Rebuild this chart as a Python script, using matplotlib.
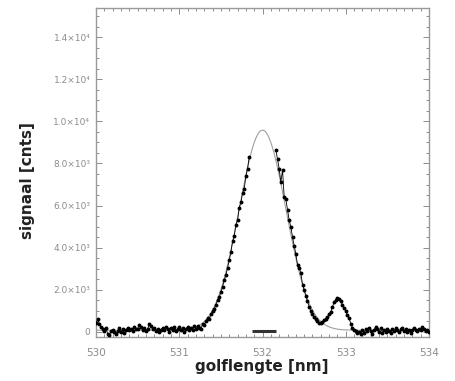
import numpy as np
import matplotlib
matplotlib.use('Agg')
import matplotlib.pyplot as plt
from matplotlib.ticker import MultipleLocator, FixedLocator, FixedFormatter

# measured spectrum, 0.02 nm steps from 530 to 534 nm (nan = no data near the top)
counts_left_base = [420, 600, 380, 250, 120, 30, 180, -80, -150, 40,
                    110, -20, -90, 60, 180, 20, 120, -40, 90, 200,
                    80, 150, 40, 230, 130, 160, 320, 250, 90, 180,
                    60, 140, 380, 300, 120, 200, 60, 150, -20, 110,
                    200, 90, 250, 140, 20, 180, 100, 220, 60, 160,
                    230, 90, 180, 10, 130, 240, 70, 190, 100, 260,
                    120, 300, 210, 150, 380, 320]
counts_left_flank = [520, 650, 620, 830, 980, 1080, 1300, 1500, 1650, 1900,
                     2150, 2450, 2700, 3050, 3400, 3800, 4300, 4550, 5100, 5300,
                     5900, 6150, 6600, 6800, 7400, 7750, 8300]
counts_top = [np.nan] * 15
counts_right_flank = [8650, 8200, 7750, 7100, 7700, 6400, 6300, 5800, 5300, 5000,
                      4500, 4100, 3700, 3200, 3050, 2800, 2250, 2000, 1700, 1450,
                      1200, 1000, 850, 720, 600, 500, 430]
counts_bump = [420, 480, 560, 620, 700, 850, 950, 1200, 1400, 1500,
               1620, 1550, 1450, 1300, 1150, 1000, 800, 650, 380, 200, 90]
counts_right_base = [50, -60, 20, -120, 80, -40, 150, 30, 200, 60,
                     -80, 100, 250, 120, 20, 180, -30, 90, 10, 140,
                     60, -50, 120, 40, 180, 90, -20, 130, 200, 60,
                     150, 20, 110, -40, 80, 190, 100, 30, 160, 70,
                     220, 120, 40, 90, 10]

counts = np.array(counts_left_base + counts_left_flank + counts_top +
                  counts_right_flank + counts_bump + counts_right_base, dtype=float)
wavelength = np.linspace(530.0, 534.0, len(counts))

# gaussian fit
fit_amp = 9500
fit_center = 532.0
fit_sigma = 0.28
fit_offset = 80

# resolution bar
res_start = 531.87
res_end = 532.16
res_level = 60

yticks = [0, 2000, 4000, 6000, 8000, 10000, 12000, 14000]
ytick_labels = ['0', '2.0×10³', '4.0×10³', '6.0×10³', '8.0×10³',
                '1.0×10⁴', '1.2×10⁴', '1.4×10⁴']

grey = '#8c8c8c'

fig = plt.figure(figsize=(4.55, 3.81), dpi=100)
ax = fig.add_axes([0.211, 0.1155, 0.732, 0.8635])

xf = np.linspace(530, 534, 800)
yf = fit_offset + fit_amp * np.exp(-(xf - fit_center) ** 2 / (2 * fit_sigma ** 2))
ax.plot(xf, yf, color='#a0a0a0', lw=0.8, zorder=2)

ax.plot(wavelength, counts, color='black', lw=0.6, marker='o', ms=1.8,
        mec='black', mfc='black', zorder=3)
ax.plot([res_start, res_end], [res_level, res_level], color='#333333', lw=2.2,
        solid_capstyle='butt', zorder=4)

ax.set_xlim(530, 534)
ax.set_ylim(-240, 15380)

ax.xaxis.set_major_locator(MultipleLocator(1))
ax.xaxis.set_minor_locator(MultipleLocator(0.1))
ax.yaxis.set_major_locator(FixedLocator(yticks))
ax.yaxis.set_major_formatter(FixedFormatter(ytick_labels))
ax.yaxis.set_minor_locator(MultipleLocator(500))

ax.tick_params(which='both', direction='in', top=True, right=True, color=grey,
               width=0.7)
ax.tick_params(which='major', length=4)
ax.tick_params(which='minor', length=2.2)
ax.tick_params(axis='x', labelsize=7.5, labelcolor=grey, pad=8)
ax.tick_params(axis='y', labelsize=6.5, labelcolor=grey, pad=4)

for s in ax.spines.values():
    s.set_color('#999999')
    s.set_linewidth(1.0)

ax.set_xlabel('golflengte [nm]', fontsize=11, fontweight='semibold',
              color='#222222')
ax.set_ylabel('signaal [cnts]', fontsize=11, fontweight='semibold',
              color='#222222')
ax.xaxis.set_label_coords(0.4985, -0.066)
ax.yaxis.set_label_coords(-0.207, 0.474)
ax.yaxis.label.set_va('center')

fig.savefig('out.png', dpi=100)
